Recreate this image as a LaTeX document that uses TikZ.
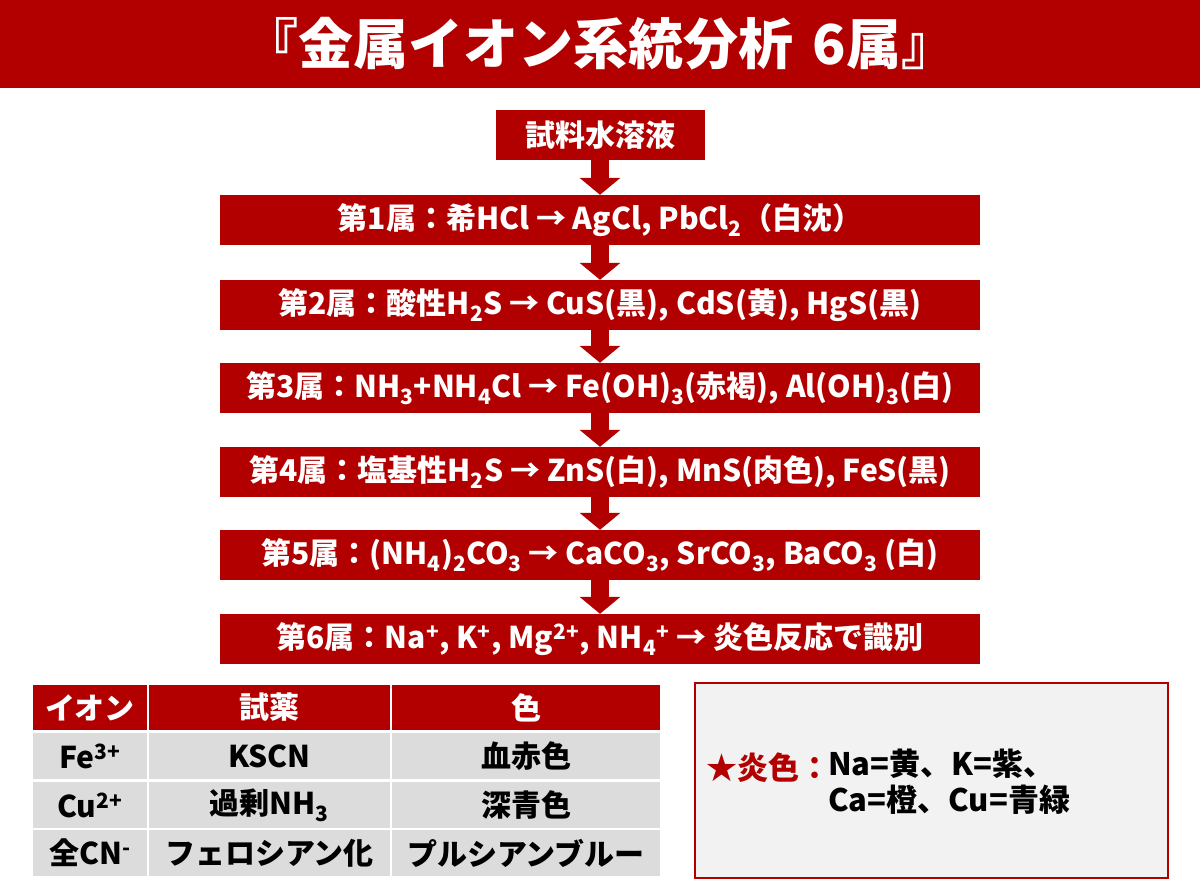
\documentclass[tikz,border=0pt]{standalone}
\usepackage{fontspec}
\setmainfont{Noto Sans CJK JP}
\usetikzlibrary{arrows.meta}
\definecolor{mred}{RGB}{178,0,0}
\definecolor{cellgray}{RGB}{220,220,220}
\definecolor{notegray}{RGB}{242,242,242}
\tikzset{
  titlebar/.style={fill=mred, text=white, inner sep=0pt, minimum width=1200pt, minimum height=88pt,
    font=\bfseries\fontsize{55}{62}\selectfont},
  flowbox/.style={fill=mred, text=white, inner sep=0pt, minimum height=50pt,
    font=\bfseries\fontsize{30}{34}\selectfont},
  groupbox/.style={flowbox, minimum width=760pt},
  flowarrow/.style={draw=mred, line width=18pt, -{Triangle[width=40pt,length=17pt]}},
  hcell/.style={fill=mred, text=white, inner sep=0pt, minimum height=45pt,
    font=\bfseries\fontsize{30}{34}\selectfont},
  bcell/.style={fill=cellgray, text=black, inner sep=0pt, minimum height=46pt,
    font=\bfseries\fontsize{30}{34}\selectfont},
  colA/.style={minimum width=114pt},
  colB/.style={minimum width=241pt},
  colC/.style={minimum width=268pt},
  notebox/.style={draw=mred, line width=2.5pt, fill=notegray, inner sep=0pt},
  notetext/.style={inner sep=0pt, font=\bfseries\fontsize{31}{36}\selectfont}
}
\begin{document}
\begin{tikzpicture}[x=1pt,y=-1pt]
\useasboundingbox (0,0) rectangle (1200,896);
\fill[white] (0,0) rectangle (1200,896);
% title
\node[titlebar] (title) at (600,44) {『金属イオン系統分析\hspace{0.35em}6属』};
% flow
\node[flowbox, minimum width=209pt] (s0) at (600,135) {試料水溶液};
\node[groupbox] (g1) at (600,220) {第1属：希HCl → AgCl, PbCl\textsubscript{2}（白沈）};
\node[groupbox] (g2) at (600,305) {第2属：酸性H\textsubscript{2}S → CuS(黒), CdS(黄), HgS(黒)};
\node[groupbox] (g3) at (600,388) {第3属：NH\textsubscript{3}+NH\textsubscript{4}Cl → Fe(OH)\textsubscript{3}(赤褐), Al(OH)\textsubscript{3}(白)};
\node[groupbox] (g4) at (600,472) {第4属：塩基性H\textsubscript{2}S → ZnS(白), MnS(肉色), FeS(黒)};
\node[groupbox] (g5) at (600,555) {第5属：(NH\textsubscript{4})\textsubscript{2}CO\textsubscript{3} → CaCO\textsubscript{3}, SrCO\textsubscript{3}, BaCO\textsubscript{3} (白)};
\node[groupbox] (g6) at (600,639) {第6属：Na\textsuperscript{+}, K\textsuperscript{+}, Mg\textsuperscript{2+}, NH\textsubscript{4}\textsuperscript{+} → 炎色反応で識別};
\draw[flowarrow] (s0.south) -- (g1.north);
\draw[flowarrow] (g1.south) -- (g2.north);
\draw[flowarrow] (g2.south) -- (g3.north);
\draw[flowarrow] (g3.south) -- (g4.north);
\draw[flowarrow] (g4.south) -- (g5.north);
\draw[flowarrow] (g5.south) -- (g6.north);
% table
\node[hcell, colA] (h1) at (90,707.5) {イオン};
\node[hcell, colB] (h2) at (269.5,707.5) {試薬};
\node[hcell, colC] (h3) at (526,707.5) {色};
\node[bcell, colA] (a1) at (90,756) {Fe\textsuperscript{3+}};
\node[bcell, colB] (b1) at (269.5,756) {KSCN};
\node[bcell, colC] (c1) at (526,756) {血赤色};
\node[bcell, colA] (a2) at (90,805) {Cu\textsuperscript{2+}};
\node[bcell, colB] (b2) at (269.5,805) {過剰NH\textsubscript{3}};
\node[bcell, colC] (c2) at (526,805) {深青色};
\node[bcell, colA] (a3) at (90,853) {全CN\textsuperscript{-}};
\node[bcell, colB] (b3) at (269.5,853) {フェロシアン化};
\node[bcell, colC] (c3) at (526,853) {プルシアンブルー};
% note
\node[notebox, minimum width=473pt, minimum height=195pt] (note) at (931.5,780.5) {};
\node[notetext, text=mred, anchor=west] (nlabel) at (706,768) {★炎色：};
\node[notetext, text=black, anchor=north west, align=left] (nbody) at (828,749) {Na=黄、K=紫、\\Ca=橙、Cu=青緑};
\end{tikzpicture}
\end{document}
